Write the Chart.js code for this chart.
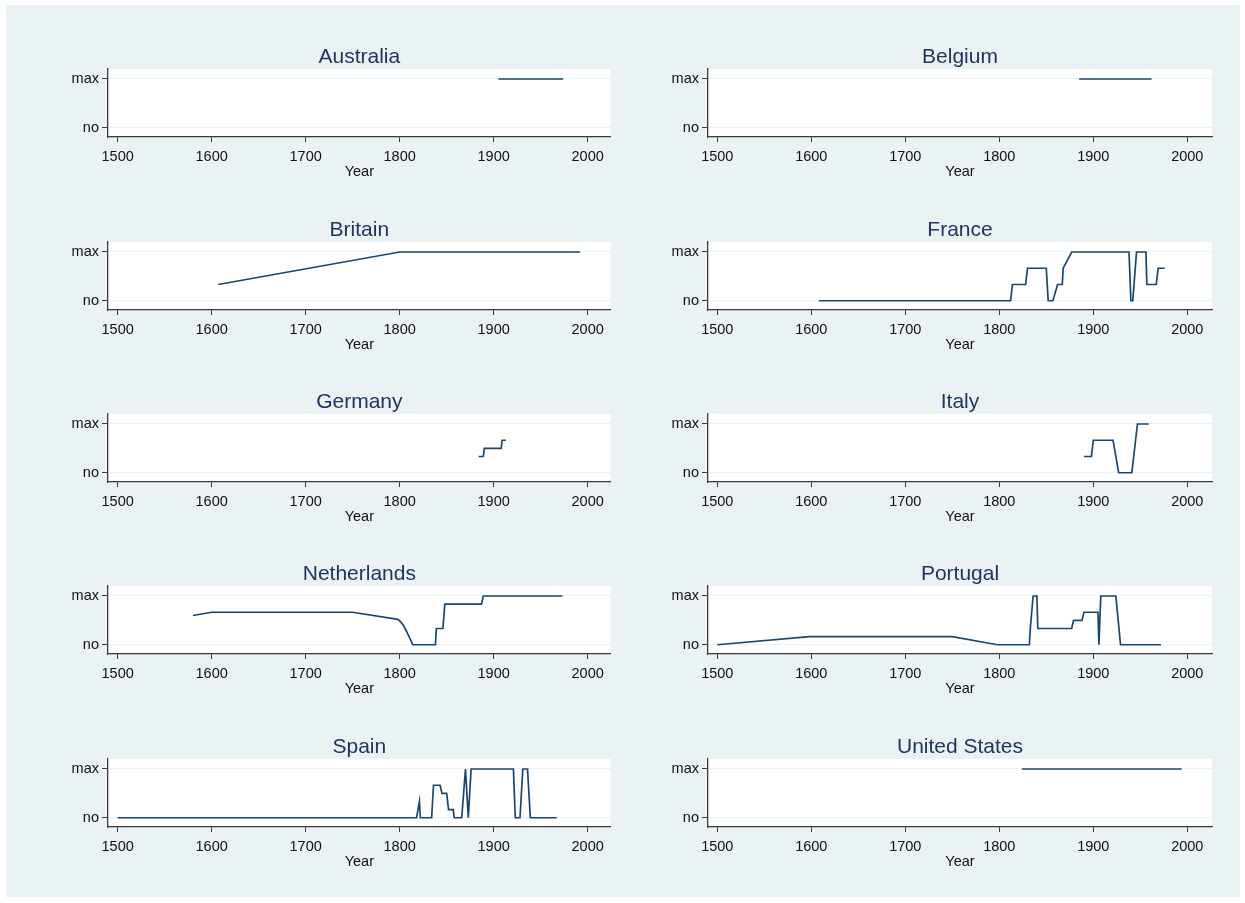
<!DOCTYPE html>
<html><head><meta charset="utf-8">
<script src="https://cdn.jsdelivr.net/npm/chart.js@4/dist/chart.umd.min.js"></script>
<style>
html,body{margin:0;padding:0;background:#ffffff;}
#bg{position:absolute;left:6px;top:5px;width:1234px;height:892px;background:#eaf2f3;}
canvas{position:absolute;}
</style></head><body>
<div id="bg"></div>
<script>
// ---- Data (levels: 0 = "no", 1 = "max") ----
const countries = ['Australia','Belgium','Britain','France','Germany','Italy','Netherlands','Portugal','Spain','United States'];
const yearTicks = [1500,1600,1700,1800,1900,2000];
const levelTicks = [0,1];
const levelLabels = ['no','max'];

const australiaYears = [1905,1974];
const australiaLevels = [1,1];
const belgiumYears = [1885,1962];
const belgiumLevels = [1,1];
const britainYears = [1607,1800,1992];
const britainLevels = [0.333,1,1];
const franceYears = [1608,1812,1814,1828,1830,1850,1852,1857,1862,1867,1868,1877,1938,1940,1942,1946,1956,1957,1967,1969,1976];
const franceLevels = [0,0,0.333,0.333,0.667,0.667,0,0,0.333,0.333,0.667,1,1,0,0,1,1,0.333,0.333,0.667,0.667];
const germanyYears = [1884,1889,1890,1908,1909,1913];
const germanyLevels = [0.333,0.333,0.5,0.5,0.667,0.667];
const italyYears = [1890,1898,1900,1921,1927,1941,1947,1959];
const italyLevels = [0.333,0.333,0.667,0.667,0,0,1,1];
const netherlandsYears = [1580,1600,1750,1798,1800,1804,1808,1814,1838,1839,1846,1848,1887,1889,1973];
const netherlandsLevels = [0.6,0.667,0.667,0.52,0.49,0.4,0.25,0,0,0.333,0.333,0.833,0.833,1,1];
const portugalYears = [1500,1598,1750,1798,1832,1833,1836,1840,1841,1877,1879,1888,1890,1905,1906,1908,1924,1929,1972];
const portugalLevels = [0,0.167,0.167,0,0,0.333,1,1,0.333,0.333,0.5,0.5,0.667,0.667,0,1,1,0,0];
const spainYears = [1500,1818,1821,1822,1834,1836,1843,1845,1850,1852,1857,1858,1866,1870,1873,1876,1921,1923,1928,1931,1936,1939,1967];
const spainLevels = [0,0,0.333,0,0,0.667,0.667,0.5,0.5,0.167,0.167,0,0,1,0,1,1,0,0,1,1,0,0];
const usYears = [1824,1994];
const usLevels = [1,1];

const seriesYears = [australiaYears,belgiumYears,britainYears,franceYears,germanyYears,italyYears,netherlandsYears,portugalYears,spainYears,usYears];
const seriesLevels = [australiaLevels,belgiumLevels,britainLevels,franceLevels,germanyLevels,italyLevels,netherlandsLevels,portugalLevels,spainLevels,usLevels];

// ---- Layout ----
const FONT = '"Liberation Sans", Arial, Helvetica, sans-serif';
const PAD_TOP = 45, PLOT_H = 68, XAXIS_H = 45;
const colCfg = [
  {canvasLeft:0, width:620, yAxisW:108, padRight:9.3, xmin:1489.7, xmax:2024.5},
  {canvasLeft:620, width:620, yAxisW:88, padRight:28, xmin:1490.1, xmax:2026.3}
];

const panelPlugin = {
  id:'panel',
  beforeDraw(chart, args, opts){
    const {ctx, chartArea:a} = chart;
    ctx.save();
    ctx.fillStyle = '#ffffff';
    ctx.fillRect(a.left, a.top, a.right - a.left, a.bottom - a.top);
    ctx.restore();
  },
  afterDraw(chart, args, opts){
    const {ctx, chartArea:a} = chart;
    ctx.save();
    ctx.font = '21px ' + FONT;
    ctx.fillStyle = '#1f3560';
    ctx.textAlign = 'center';
    ctx.textBaseline = 'alphabetic';
    ctx.fillText(opts.text, (a.left + a.right) / 2, a.top - 6);
    ctx.restore();
  }
};

countries.forEach((name, i) => {
  const col = i % 2, row = Math.floor(i / 2);
  const cfg = colCfg[col];
  const chartTop = Math.round(69.3 + 172.3 * row);
  const cv = document.createElement('canvas');
  cv.width = cfg.width;
  cv.height = PAD_TOP + PLOT_H + XAXIS_H;
  cv.style.left = cfg.canvasLeft + 'px';
  cv.style.top = (chartTop - PAD_TOP) + 'px';
  cv.style.width = cfg.width + 'px';
  cv.style.height = cv.height + 'px';
  document.body.appendChild(cv);

  const pts = seriesYears[i].map((y, k) => ({x: y, y: seriesLevels[i][k]}));

  new Chart(cv, {
    type: 'line',
    data: { datasets: [{ data: pts, borderColor: '#1a476f', borderWidth: 1.7, pointRadius: 0, tension: 0, fill: false }] },
    options: {
      responsive: false, animation: false, devicePixelRatio: 1,
      layout: { padding: { top: PAD_TOP, right: cfg.padRight, left: 0, bottom: 0 } },
      plugins: { legend: {display: false}, tooltip: {enabled: false}, title: {display: false}, panel: { text: name } },
      scales: {
        x: {
          type: 'linear', min: cfg.xmin, max: cfg.xmax,
          afterBuildTicks: s => { s.ticks = yearTicks.map(v => ({value: v})); },
          afterFit: s => { s.height = XAXIS_H; },
          grid: { drawOnChartArea: false, drawTicks: true, tickLength: 5, tickColor: '#3a3a3a', tickWidth: 1 },
          border: { display: true, color: '#3a3a3a', width: 1.3 },
          ticks: { color: '#111', font: { family: FONT, size: 14.5 }, padding: 6, maxRotation: 0, autoSkip: false, callback: v => String(v) },
          title: { display: true, text: 'Year', color: '#111', font: { family: FONT, size: 14.5 }, padding: { top: 0, bottom: 1 } }
        },
        y: {
          type: 'linear', min: -0.19, max: 1.205,
          afterBuildTicks: s => { s.ticks = levelTicks.map(v => ({value: v})); },
          afterFit: s => { s.width = cfg.yAxisW; },
          grid: { drawOnChartArea: true, color: '#eaf2f3', lineWidth: 1, drawTicks: true, tickLength: 6, tickColor: '#3a3a3a', tickWidth: 1 },
          border: { display: true, color: '#3a3a3a', width: 1.3 },
          ticks: { color: '#111', font: { family: FONT, size: 14.5 }, padding: 3, autoSkip: false,
                   callback: v => levelLabels[levelTicks.indexOf(v)] }
        }
      }
    },
    plugins: [panelPlugin]
  });
});
</script>
</body></html>
